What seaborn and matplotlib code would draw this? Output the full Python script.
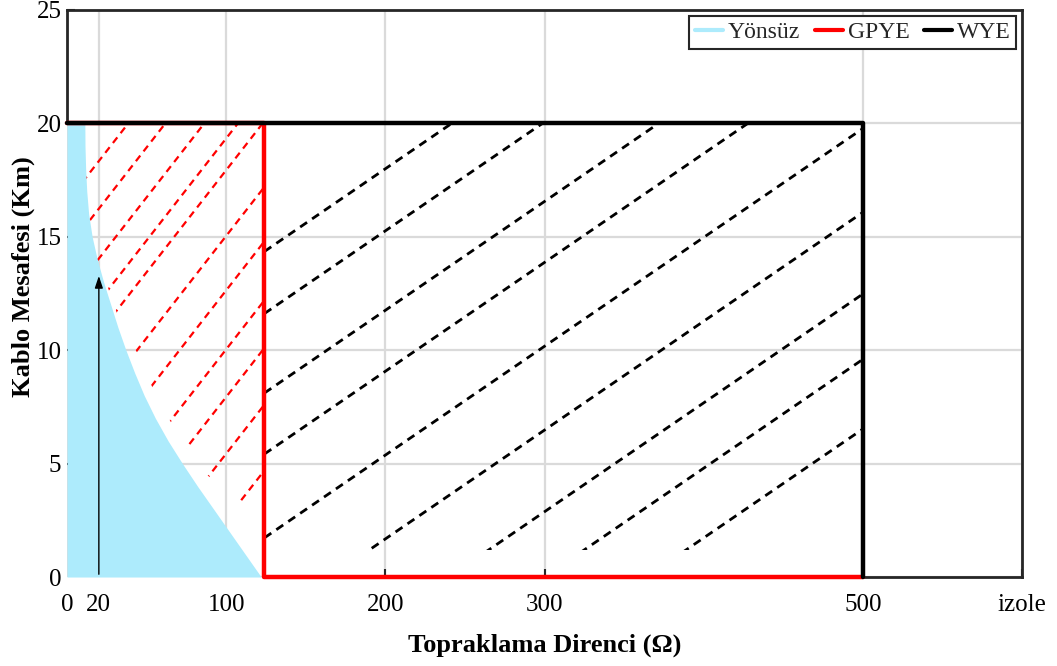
import matplotlib
matplotlib.use("Agg")
import matplotlib.pyplot as plt
import numpy as np
import seaborn as sns
from matplotlib.lines import Line2D
from matplotlib.patches import Polygon, Rectangle

# axis ticks
x_ticks = [0, 20, 100, 200, 300, 500, 600]
x_ticklabels = ["0", "20", "100", "200", "300", "500", "izole"]
y_ticks = [0, 5, 10, 15, 20, 25]

# Yönsüz region boundary (distance -> resistance)
yonsuz_y = [0, 1, 2, 3, 4, 5, 6, 7, 8, 9, 10, 11, 12, 13, 14, 15, 16, 17, 18, 19, 20]
yonsuz_x = [122, 112, 102, 92, 82, 72.5, 63.5, 55.5, 48.5, 42.5, 37, 32, 27.5, 23, 19,
            15.8, 13.6, 12.4, 11.7, 11.3, 11.2]

# GPYE / WYE boundaries
gpye_x = [0, 124, 124, 500]
gpye_y = [20, 20, 0, 0]
wye_x = [0, 500, 500]
wye_y = [20, 20, 0]

# arrow at 20 ohm
arrow_x = 20
arrow_top = 13.4

# red hatching: value of each line at x=124, and its lower-left limit
red_slope = 0.09
red_at_124 = [27.7, 25.6, 23.4, 21.5, 20.1, 17.2, 14.8, 12.2, 10.1, 7.6, 4.7]
red_edge_x = [2, 20, 34, 44, 54, 63, 73, 88, 108, 124]
red_edge_y = [15.5, 13.9, 11.1, 9.9, 8.3, 7.1, 5.9, 4.5, 3.3, 3.0]

# black hatching: x-intercept of each line
black_slope = 0.048
black_x0 = [-175, -118, -45, 11, 88, 165, 240, 300, 364]
black_floor = 1.2

BLUE = "#ADEBFC"


def main() -> None:
    sns.set_theme(style="whitegrid")
    plt.rcParams["font.family"] = ["Liberation Serif", "DejaVu Serif"]

    fig, ax = plt.subplots(figsize=(10.57, 6.66), dpi=100)
    fig.subplots_adjust(left=0.0634, right=0.967, bottom=0.1336, top=0.985)

    # hatching, red
    red_clip = Polygon([(2, 20), (124, 20)] + list(zip(red_edge_x[::-1], red_edge_y[::-1])),
                       closed=True, transform=ax.transData)
    xs = np.array([0, 124])
    for y124 in red_at_124:
        ln, = ax.plot(xs, y124 - red_slope * (124 - xs), color="red", lw=1.6,
                      dashes=(3.2, 2.4), zorder=2)
        ln.set_clip_path(red_clip)

    # hatching, black
    black_clip = Rectangle((124, black_floor), 376, 20 - black_floor, transform=ax.transData)
    xs = np.array([124, 500])
    for x0 in black_x0:
        ln, = ax.plot(xs, black_slope * (xs - x0), color="black", lw=2.0,
                      dashes=(3.0, 2.2), zorder=2)
        ln.set_clip_path(black_clip)

    ax.fill_betweenx(yonsuz_y, 0, yonsuz_x, color=BLUE, lw=0, zorder=3)

    sns.lineplot(x=gpye_x, y=gpye_y, sort=False, estimator=None, color="red", lw=3.2,
                 ax=ax, zorder=4, clip_on=False)
    sns.lineplot(x=wye_x, y=wye_y, sort=False, estimator=None, color="black", lw=3.2,
                 ax=ax, zorder=5, clip_on=False)

    ax.annotate("", xy=(arrow_x, arrow_top), xytext=(arrow_x, 0),
                arrowprops=dict(arrowstyle="-|>,head_length=0.6,head_width=0.2", color="black", lw=1.0),
                zorder=6)

    ax.set_xlim(0, 600)
    ax.set_ylim(0, 25)
    ax.set_xticks(x_ticks)
    ax.set_xticklabels(x_ticklabels)
    ax.set_yticks(y_ticks)

    ax.grid(True, color="#dadada", lw=1.6)
    ax.set_axisbelow(True)
    for side in ["top", "right", "left", "bottom"]:
        ax.spines[side].set_color("#262626")
        ax.spines[side].set_linewidth(2.0)
    ax.spines["left"].set_bounds(20, 25)
    ax.spines["bottom"].set_bounds(500, 600)

    ax.tick_params(direction="in", length=6, width=1.5, color="#262626", labelsize=18,
                   labelcolor="black", bottom=True, left=True)
    ax.tick_params(axis="x", pad=12)
    ax.tick_params(axis="y", pad=4)
    # ticks hidden under the Yönsüz area
    ax.xaxis.get_major_ticks()[0].tick1line.set_visible(False)
    ax.yaxis.get_major_ticks()[0].tick1line.set_visible(False)

    ax.set_xlabel("Topraklama Direnci (Ω)", fontsize=19, fontweight="bold", color="black", labelpad=13)
    ax.set_ylabel("Kablo Mesafesi (Km)", fontsize=19, fontweight="bold", color="black")
    ax.yaxis.set_label_coords(-0.033, 0.53)

    handles = [Line2D([], [], color=BLUE, lw=3),
               Line2D([], [], color="red", lw=3),
               Line2D([], [], color="black", lw=3)]
    leg = ax.legend(handles, ["Yönsüz", "GPYE", "WYE"], ncol=3, loc="upper right",
                    fontsize=17, frameon=True, fancybox=False, framealpha=1,
                    edgecolor="#262626", handlelength=1.2, handletextpad=0.2,
                    columnspacing=0.6, borderaxespad=0.25, borderpad=0.25)
    leg.get_frame().set_linewidth(1.5)
    leg.set_zorder(10)

    fig.savefig("out.png", dpi=100)


if __name__ == "__main__":
    main()
